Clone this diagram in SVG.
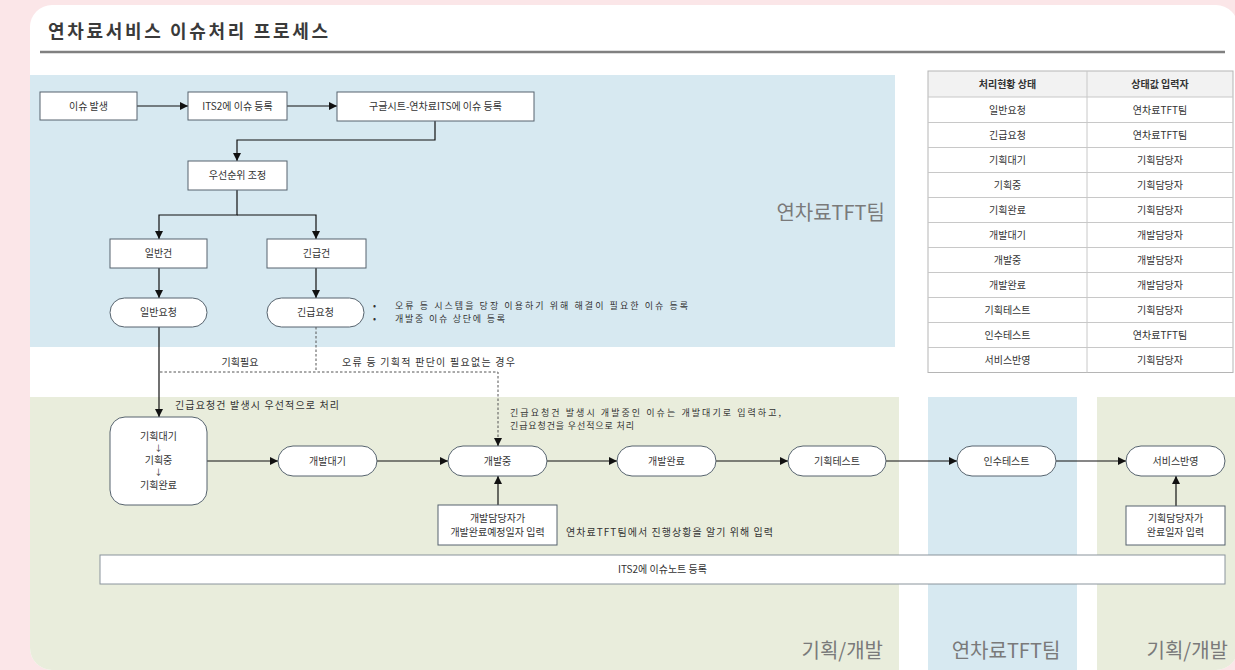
<svg xmlns="http://www.w3.org/2000/svg" width="1235" height="670" viewBox="0 0 1235 670">
<defs>
<style>
.t{font-family:"Noto Sans CJK KR","Noto Sans",sans-serif;font-size:10px;fill:#333}
.s{font-size:9px}
.c{text-anchor:middle}
.b{font-weight:bold}
.big{font-family:"Noto Sans CJK KR","Noto Sans",sans-serif;font-size:20px;fill:#7a7a7a}
.box{fill:#fff;stroke:#56636e;stroke-width:1}
.ln{fill:none;stroke:#111;stroke-width:1.2}
.dash{fill:none;stroke:#555;stroke-width:1;stroke-dasharray:2.5 2}
.tl{stroke:#c8c8c8;stroke-width:1}
</style>
<marker id="ah" viewBox="0 0 10 10" refX="10" refY="5" markerWidth="9" markerHeight="8" markerUnits="userSpaceOnUse" orient="auto"><path d="M0,0 L10,5 L0,10 z" fill="#111"/></marker>
<clipPath id="card"><rect x="30" y="5" width="1208" height="665" rx="22"/></clipPath>
</defs>
<rect x="0" y="0" width="1235" height="670" fill="#fbe6e8"/>
<g id="card-bg" clip-path="url(#card)">
<rect x="30" y="5" width="1208" height="665" fill="#fff"/>
<rect x="30" y="75" width="865" height="272" fill="#d7e9f1"/>
<rect x="30" y="397" width="869" height="273" fill="#e9eddc"/>
<rect x="928" y="397" width="149" height="273" fill="#d7e9f1"/>
<rect x="1097" y="397" width="141" height="273" fill="#e9eddc"/>
</g>
<g id="title">
<text class="t b" x="48" y="38" style="font-size:18px;fill:#3a3a3a" textLength="280">연차료서비스 이슈처리 프로세스</text>
<line x1="40" y1="52" x2="1225" y2="52" stroke="#808080" stroke-width="2.5"/>
</g>
<g id="lane-labels">
<text class="big" x="885" y="220" text-anchor="end">연차료TFT팀</text>
<text class="big" x="883" y="658" text-anchor="end">기획/개발</text>
<text class="big c" x="1006" y="658">연차료TFT팀</text>
<text class="big" x="1228" y="658" text-anchor="end">기획/개발</text>
</g>
<g id="connectors">
<path class="ln" d="M137,106 H188" marker-end="url(#ah)"/>
<path class="ln" d="M287,106 H337" marker-end="url(#ah)"/>
<path class="ln" d="M435,121 V140 H237 V161" marker-end="url(#ah)"/>
<path class="ln" d="M237,190 V215 H159 V239" marker-end="url(#ah)"/>
<path class="ln" d="M237,215 H316 V239" marker-end="url(#ah)"/>
<path class="ln" d="M159,268 V298" marker-end="url(#ah)"/>
<path class="ln" d="M316,268 V298" marker-end="url(#ah)"/>
<path class="ln" d="M159,327 V417" marker-end="url(#ah)"/>
<path class="dash" d="M316,327 V372"/>
<path class="dash" d="M160,372 H498 V440"/>
<path class="ln" d="M498,438 V446" marker-end="url(#ah)"/>
<path class="ln" d="M207,461 H278" marker-end="url(#ah)"/>
<path class="ln" d="M377,461 H448" marker-end="url(#ah)"/>
<path class="ln" d="M547,461 H617" marker-end="url(#ah)"/>
<path class="ln" d="M716,461 H788" marker-end="url(#ah)"/>
<path class="ln" d="M886,461 H957" marker-end="url(#ah)"/>
<path class="ln" d="M1056,461 H1126" marker-end="url(#ah)"/>
<path class="ln" d="M498,505 V476" marker-end="url(#ah)"/>
<path class="ln" d="M1176,506 V476" marker-end="url(#ah)"/>
</g>
<g id="edge-labels">
<text class="t c" x="240" y="366">기획필요</text>
<text class="t" x="342" y="366" textLength="173">오류 등 기획적 판단이 필요없는 경우</text>
<text class="t" x="175" y="409" textLength="164">긴급요청건 발생시 우선적으로 처리</text>
<text class="t s" x="510" y="416" textLength="271">긴급요청건 발생시 개발중인 이슈는 개발대기로 입력하고,</text>
<text class="t s" x="510" y="429" textLength="124">긴급요청건을 우선적으로 처리</text>
<text class="t" x="566" y="536" textLength="207">연차료TFT팀에서 진행상황을 알기 위해 입력</text>
</g>
<g id="n-issue"><rect class="box" x="40" y="92" width="97" height="28"/><text class="t c" x="88.5" y="109.5">이슈 발생</text></g>
<g id="n-its2"><rect class="box" x="188" y="92" width="99" height="28"/><text class="t c" x="237.5" y="109.5">ITS2에 이슈 등록</text></g>
<g id="n-sheet"><rect class="box" x="337" y="92" width="197" height="29"/><text class="t c" x="435.5" y="110">구글시트-연차료ITS에 이슈 등록</text></g>
<g id="n-priority"><rect class="box" x="188" y="161" width="99" height="29"/><text class="t c" x="237.5" y="179">우선순위 조정</text></g>
<g id="n-normal"><rect class="box" x="110" y="239" width="97" height="29"/><text class="t c" x="158.5" y="257">일반건</text></g>
<g id="n-urgent"><rect class="box" x="267" y="239" width="99" height="29"/><text class="t c" x="316.5" y="257">긴급건</text></g>
<g id="n-normal-req"><rect class="box" x="110" y="298" width="97" height="29" rx="14.5"/><text class="t c" x="158.5" y="316">일반요청</text></g>
<g id="n-urgent-req"><rect class="box" x="267" y="298" width="97" height="29" rx="14.5"/><text class="t c" x="315.5" y="316">긴급요청</text></g>
<g id="n-urgent-note">
<text class="t s" x="373" y="309">•</text><text class="t s" x="395" y="309" textLength="293">오류 등 시스템을 당장 이용하기 위해 해결이 필요한 이슈 등록</text>
<text class="t s" x="373" y="322">•</text><text class="t s" x="395" y="322" textLength="110">개발중 이슈 상단에 등록</text>
</g>
<g id="n-plan"><rect class="box" x="110" y="417" width="97" height="88" rx="15"/>
<text class="t c" x="158.5" y="440">기획대기</text>
<text class="t c" x="158.5" y="451" style="font-size:8px">↓</text>
<text class="t c" x="158.5" y="464">기획중</text>
<text class="t c" x="158.5" y="475" style="font-size:8px">↓</text>
<text class="t c" x="158.5" y="489">기획완료</text>
</g>
<g id="n-devwait"><rect class="box" x="278" y="446" width="99" height="30" rx="15"/><text class="t c" x="327.5" y="464.5">개발대기</text></g>
<g id="n-dev"><rect class="box" x="448" y="446" width="99" height="30" rx="15"/><text class="t c" x="497.5" y="464.5">개발중</text></g>
<g id="n-devdone"><rect class="box" x="617" y="446" width="99" height="30" rx="15"/><text class="t c" x="666.5" y="464.5">개발완료</text></g>
<g id="n-plantest"><rect class="box" x="788" y="446" width="98" height="30" rx="15"/><text class="t c" x="837" y="464.5">기획테스트</text></g>
<g id="n-accept"><rect class="box" x="957" y="446" width="99" height="30" rx="15"/><text class="t c" x="1006.5" y="464.5">인수테스트</text></g>
<g id="n-release"><rect class="box" x="1126" y="446" width="99" height="30" rx="15"/><text class="t c" x="1175.5" y="464.5">서비스반영</text></g>
<g id="n-devinput"><rect class="box" x="438" y="505" width="119" height="40"/><text class="t c" x="497.5" y="522">개발담당자가</text><text class="t c" x="497.5" y="536">개발완료예정일자 입력</text></g>
<g id="n-planinput"><rect class="box" x="1126" y="506" width="99" height="39"/><text class="t c" x="1175.5" y="522">기획담당자가</text><text class="t c" x="1175.5" y="536">완료일자 입력</text></g>
<g id="n-note"><rect class="box" x="100" y="555" width="1125" height="29" style="stroke:#8a949c"/><text class="t c" x="662.5" y="573">ITS2에 이슈노트 등록</text></g>
<g id="status-table">
<rect x="928" y="71" width="305" height="26" fill="#f2f2f2"/>
<rect x="928" y="71" width="305" height="301.5" fill="none" stroke="#b5b5b5" stroke-width="1"/>
<line class="tl" x1="1087" y1="71" x2="1087" y2="372.5"/>
<line class="tl" x1="928" y1="97" x2="1233" y2="97"/>
<line class="tl" x1="928" y1="122.5" x2="1233" y2="122.5"/>
<line class="tl" x1="928" y1="147.5" x2="1233" y2="147.5"/>
<line class="tl" x1="928" y1="172.5" x2="1233" y2="172.5"/>
<line class="tl" x1="928" y1="197.5" x2="1233" y2="197.5"/>
<line class="tl" x1="928" y1="222.5" x2="1233" y2="222.5"/>
<line class="tl" x1="928" y1="247.5" x2="1233" y2="247.5"/>
<line class="tl" x1="928" y1="272.5" x2="1233" y2="272.5"/>
<line class="tl" x1="928" y1="297.5" x2="1233" y2="297.5"/>
<line class="tl" x1="928" y1="322.5" x2="1233" y2="322.5"/>
<line class="tl" x1="928" y1="347.5" x2="1233" y2="347.5"/>
<text class="t c b" x="1007.5" y="88">처리현황 상태</text><text class="t c b" x="1160" y="88">상태값 입력자</text>
<text class="t c" x="1007.5" y="113.5">일반요청</text><text class="t c" x="1160" y="113.5">연차료TFT팀</text>
<text class="t c" x="1007.5" y="138.5">긴급요청</text><text class="t c" x="1160" y="138.5">연차료TFT팀</text>
<text class="t c" x="1007.5" y="163.5">기획대기</text><text class="t c" x="1160" y="163.5">기획담당자</text>
<text class="t c" x="1007.5" y="188.5">기획중</text><text class="t c" x="1160" y="188.5">기획담당자</text>
<text class="t c" x="1007.5" y="213.5">기획완료</text><text class="t c" x="1160" y="213.5">기획담당자</text>
<text class="t c" x="1007.5" y="238.5">개발대기</text><text class="t c" x="1160" y="238.5">개발담당자</text>
<text class="t c" x="1007.5" y="263.5">개발중</text><text class="t c" x="1160" y="263.5">개발담당자</text>
<text class="t c" x="1007.5" y="288.5">개발완료</text><text class="t c" x="1160" y="288.5">개발담당자</text>
<text class="t c" x="1007.5" y="313.5">기획테스트</text><text class="t c" x="1160" y="313.5">기획담당자</text>
<text class="t c" x="1007.5" y="338.5">인수테스트</text><text class="t c" x="1160" y="338.5">연차료TFT팀</text>
<text class="t c" x="1007.5" y="363.5">서비스반영</text><text class="t c" x="1160" y="363.5">기획담당자</text>
</g>
</svg>
